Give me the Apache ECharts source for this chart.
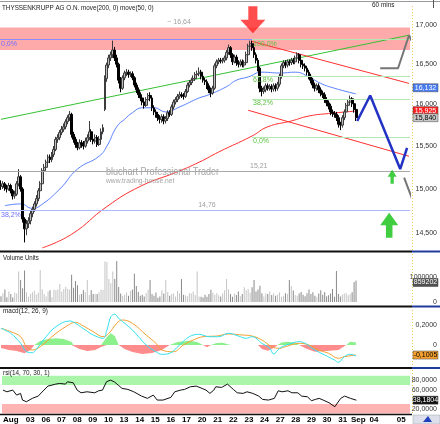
<!DOCTYPE html>
<html>
<head>
<meta charset="utf-8">
<script src="https://cdn.jsdelivr.net/npm/echarts@6/dist/echarts.min.js"></script>
<style>
  html, body { margin: 0; padding: 0; background: #fff; }
  #main { width: 440px; height: 424px; }
</style>
</head>
<body>
<div id="main"></div>
<script>
// trading days shown on the axis ('Aug' = 01, 'Sep' = 03), hourly bars per day
var days = ['Aug','02','03','06','07','08','09','10','13','14','15','16','17','20','21','22','23','24','27','28','29','30','31','Sep','04','05'];
var barsPerDay = [6,8,8,8,8,8,8,8,8,8,8,8,8,8,8,8,8,8,8,8,8,8,8,8,14,5];
var hiddenDays = ['02'];

// hourly candles [open, close, low, high]
var ohlc = [
  [15.05,15.03,14.99,15.10],[15.03,15.06,15.00,15.09],[15.06,15.02,14.98,15.08],[15.02,15.00,14.96,15.05],[15.00,15.04,14.98,15.07],[15.04,14.98,14.95,15.06],
  [14.98,14.92,14.88,15.00],[14.92,14.94,14.89,14.98],[14.94,15.06,14.92,15.09],[15.06,15.14,15.03,15.23],[15.14,15.00,14.97,15.16],[15.00,14.66,14.62,15.02],[14.66,14.55,14.40,14.68],[14.55,14.61,14.48,14.65],
  [14.61,14.64,14.56,14.68],[14.64,14.72,14.60,14.75],[14.72,14.77,14.68,14.80],[14.77,14.83,14.74,14.86],[14.83,14.89,14.80,14.93],[14.89,14.98,14.86,15.01],[14.98,15.06,14.95,15.09],[15.06,15.21,15.04,15.24],
  [15.21,15.25,15.17,15.29],[15.25,15.31,15.22,15.34],[15.31,15.37,15.28,15.40],[15.37,15.34,15.30,15.40],[15.34,15.40,15.31,15.43],[15.40,15.46,15.37,15.50],[15.46,15.58,15.44,15.61],[15.58,15.60,15.54,15.64],
  [15.60,15.66,15.57,15.69],[15.66,15.70,15.63,15.74],[15.70,15.73,15.67,15.77],[15.73,15.79,15.70,15.82],[15.79,15.84,15.76,15.87],[15.84,15.88,15.80,15.92],[15.88,15.64,15.60,15.90],[15.64,15.58,15.54,15.67],
  [15.58,15.52,15.48,15.61],[15.52,15.48,15.45,15.55],[15.48,15.54,15.46,15.58],[15.54,15.52,15.48,15.57],[15.52,15.50,15.46,15.56],[15.50,15.56,15.48,15.60],[15.56,15.60,15.53,15.64],[15.60,15.67,15.57,15.80],
  [15.67,15.58,15.55,15.70],[15.58,15.56,15.52,15.62],[15.56,15.60,15.53,15.64],[15.60,15.52,15.49,15.63],[15.52,15.58,15.50,15.62],[15.58,15.67,15.56,15.71],[15.67,15.72,15.64,15.76],[15.94,16.32,15.92,16.36],
  [16.32,16.49,16.28,16.52],[16.49,16.58,16.45,16.62],[16.58,16.62,16.54,16.66],[16.62,16.68,16.58,16.80],[16.68,16.58,16.54,16.72],[16.58,16.50,16.46,16.62],[16.50,16.30,16.26,16.52],[16.30,16.20,16.15,16.34],
  [16.20,16.33,16.18,16.36],[16.33,16.39,16.30,16.42],[16.39,16.40,16.35,16.44],[16.40,16.37,16.33,16.43],[16.37,16.38,16.34,16.41],[16.38,16.33,16.30,16.41],[16.33,16.24,16.21,16.35],[16.24,16.18,16.14,16.27],
  [16.18,16.12,16.08,16.21],[16.12,16.08,16.04,16.15],[16.08,16.03,15.99,16.10],[16.03,15.99,15.95,16.06],[15.99,16.06,15.97,16.09],[16.06,16.11,16.03,16.14],[16.11,16.08,16.04,16.15],[16.08,15.96,15.92,16.10],
  [15.96,15.91,15.87,15.99],[15.91,15.88,15.84,15.94],[15.88,15.84,15.80,15.91],[15.84,15.82,15.77,15.87],[15.82,15.85,15.78,15.88],[15.85,15.80,15.76,15.88],[15.80,15.83,15.77,15.86],[15.83,15.90,15.80,15.93],
  [15.90,15.88,15.85,15.93],[15.88,15.97,15.86,16.00],[15.97,16.03,15.94,16.06],[16.03,16.06,16.00,16.09],[16.06,16.10,16.03,16.13],[16.10,16.12,16.07,16.16],[16.12,16.11,16.08,16.15],[16.11,16.10,16.06,16.14],
  [16.10,16.16,16.08,16.19],[16.16,16.24,16.14,16.27],[16.24,16.27,16.21,16.30],[16.27,16.30,16.24,16.33],[16.30,16.32,16.27,16.36],[16.32,16.37,16.29,16.40],[16.37,16.38,16.34,16.42],[16.38,16.40,16.35,16.46],
  [16.40,16.35,16.31,16.43],[16.35,16.30,16.27,16.38],[16.30,16.28,16.24,16.33],[16.28,16.23,16.19,16.31],[16.23,16.18,16.14,16.26],[16.18,16.14,16.09,16.21],[16.14,16.20,16.12,16.23],[16.20,16.48,16.18,16.51],
  [16.48,16.53,16.45,16.56],[16.53,16.55,16.50,16.58],[16.55,16.54,16.51,16.58],[16.54,16.55,16.51,16.58],[16.55,16.58,16.52,16.61],[16.58,16.65,16.55,16.68],[16.65,16.71,16.62,16.75],[16.71,16.62,16.58,16.73],
  [16.62,16.53,16.49,16.64],[16.53,16.59,16.51,16.62],[16.59,16.52,16.48,16.62],[16.52,16.50,16.46,16.55],[16.50,16.53,16.47,16.56],[16.53,16.49,16.46,16.56],[16.49,16.52,16.46,16.55],[16.52,16.62,16.50,16.66],
  [16.62,16.73,16.60,16.76],[16.73,16.76,16.70,16.80],[16.76,16.71,16.67,16.80],[16.71,16.62,16.58,16.74],[16.62,16.55,16.51,16.65],[16.55,16.45,16.41,16.58],[16.45,16.20,16.15,16.47],[16.20,16.16,16.10,16.23],
  [16.16,16.18,16.13,16.22],[16.18,16.23,16.15,16.26],[16.23,16.20,16.17,16.26],[16.20,16.22,16.17,16.25],[16.22,16.19,16.15,16.25],[16.19,16.23,16.16,16.26],[16.23,16.20,16.16,16.26],[16.20,16.25,16.17,16.28],
  [16.25,16.35,16.22,16.38],[16.35,16.48,16.32,16.51],[16.48,16.52,16.45,16.55],[16.52,16.49,16.45,16.55],[16.49,16.53,16.46,16.56],[16.53,16.52,16.48,16.56],[16.52,16.55,16.49,16.58],[16.55,16.53,16.50,16.58],
  [16.53,16.58,16.50,16.61],[16.58,16.62,16.55,16.65],[16.62,16.55,16.51,16.64],[16.55,16.50,16.46,16.58],[16.50,16.48,16.44,16.53],[16.48,16.45,16.41,16.51],[16.45,16.40,16.36,16.48],[16.40,16.35,16.31,16.43],
  [16.35,16.30,16.26,16.38],[16.30,16.24,16.20,16.33],[16.24,16.20,16.16,16.27],[16.20,16.23,16.17,16.26],[16.23,16.18,16.14,16.26],[16.18,16.14,16.10,16.21],[16.14,16.12,16.08,16.17],[16.12,16.06,16.02,16.15],
  [16.06,16.02,15.98,16.09],[16.02,15.98,15.94,16.05],[15.98,15.91,15.87,16.01],[15.91,15.89,15.85,15.94],[15.89,15.88,15.84,15.92],[15.88,15.84,15.80,15.91],[15.84,15.76,15.72,15.87],[15.76,15.75,15.69,15.79],
  [15.75,15.84,15.72,15.87],[15.84,15.91,15.81,15.94],[15.91,15.99,15.88,16.02],[15.99,16.03,15.96,16.06],[16.03,16.07,16.00,16.11],[16.07,16.01,15.97,16.09],[16.01,15.94,15.90,16.04],[15.94,15.84,15.80,15.96]
];

var volume = [
  235000,353000,504000,193000,420000,319000,
  176000,378000,336000,1218000,882000,546000,1260000,386000,
  210000,319000,386000,454000,302000,378000,1277000,512000,
  319000,218000,420000,470000,193000,487000,470000,504000,
  722000,420000,521000,605000,521000,487000,1092000,571000,
  840000,672000,294000,319000,470000,386000,882000,277000,
  470000,319000,319000,319000,386000,487000,487000,1621000,
  1596000,924000,756000,1218000,924000,1638000,605000,336000,
  252000,294000,378000,252000,437000,504000,1134000,638000,
  403000,252000,294000,218000,353000,487000,882000,319000,
  252000,378000,168000,218000,470000,336000,882000,403000,
  252000,319000,336000,218000,437000,353000,924000,294000,
  269000,235000,353000,336000,420000,277000,1218000,218000,
  210000,185000,294000,210000,319000,487000,378000,294000,
  353000,269000,218000,336000,470000,924000,504000,319000,
  210000,336000,277000,420000,235000,319000,588000,470000,
  521000,378000,588000,882000,420000,504000,655000,353000,
  218000,336000,319000,420000,277000,353000,252000,302000,
  386000,210000,252000,353000,319000,882000,638000,462000,
  277000,252000,336000,403000,294000,235000,353000,504000,
  319000,386000,252000,210000,336000,470000,294000,403000,
  235000,269000,336000,521000,210000,1243000,319000,218000,
  294000,336000,353000,269000,319000,386000,798000,859202
];

// moving averages, [bar, price]
var ma200 = [[21,14.34],[36,14.49],[54,14.80],[71,15.03],[89,15.19],[101,15.31],[111,15.43],[128,15.62],[136,15.73],[148,15.80],[157,15.86],[167,15.89],[181,15.92]];
var ma50 = [[2,14.81],[10,14.83],[16,14.78],[20,14.81],[30,15.00],[39,15.23],[50,15.38],[54,15.50],[59,15.73],[63,15.82],[67,15.90],[72,15.96],[78,15.96],[84,15.91],[91,15.97],[101,16.08],[106,16.12],[115,16.22],[120,16.30],[126,16.34],[133,16.40],[142,16.39],[150,16.40],[157,16.34],[163,16.26],[170,16.20],[181,16.13]];

// drawn trend lines and projections, [bar, price]
var trendUp = [[0,15.82],[208,16.87]];
var channelTop = [[128,16.79],[208,16.26]];
var channelLow = [[126,15.93],[208,15.38]];
var projBlue = [[181.6,15.80],[188.2,16.11],[203.5,15.23],[207,15.48]];
var projGray1 = [[193.3,16.45],[202.4,16.45],[208,16.87],[211.6,16.68]];
var projGray2 = [[205.5,15.13],[212.1,14.74],[216.6,14.87]];

// fibonacci levels
var fibRight = [[16.815,'100,0%'],[16.354,'61,8%'],[16.068,'38,2%'],[15.607,'0,0%']];
var fibLeft = [[16.815,'0,0%'],[14.76,'38,2%']];
var hLine = 15.21;
var band = [16.68, 16.97];

// macd(12,26,9), [bar, value]
var macdLine = [[0,0.167],[5,0.117],[10,0.017],[13,-0.067],[16,-0.077],[18,-0.043],[23,0.083],[28,0.183],[35,0.24],[38,0.217],[43,0.15],[47,0.10],[52,0.067],[54,0.15],[56,0.283],[58,0.307],[60,0.267],[67,0.15],[74,0.0],[79,-0.067],[82,-0.093],[86,-0.083],[91,0.0],[96,0.083],[101,0.107],[106,0.083],[111,0.083],[116,0.117],[121,0.09],[125,0.067],[128,0.083],[133,0.017],[137,-0.033],[139,-0.09],[142,-0.033],[147,0.01],[152,0.033],[155,0.017],[160,-0.05],[165,-0.10],[170,-0.15],[172,-0.173],[175,-0.117],[178,-0.093],[181,-0.11]];
var macdSignal = [[0,0.167],[5,0.133],[10,0.083],[13,-0.017],[16,-0.05],[20,-0.017],[27,0.10],[33,0.183],[38,0.227],[42,0.19],[47,0.133],[52,0.083],[55,0.117],[59,0.217],[62,0.25],[67,0.217],[74,0.10],[79,0.017],[82,-0.05],[88,-0.067],[93,0.0],[98,0.05],[103,0.083],[110,0.09],[116,0.11],[123,0.10],[128,0.09],[133,0.05],[138,-0.017],[142,-0.033],[145,-0.017],[152,0.017],[157,0.0],[162,-0.05],[167,-0.083],[172,-0.133],[175,-0.117],[181,-0.10]];
var macdHist = [[0,-0.03],[4,-0.05],[8,-0.06],[12,-0.083],[15,-0.05],[17,0],[20,0.04],[24,0.06],[28,0.067],[32,0.06],[36,0.03],[37,0],[40,-0.04],[44,-0.06],[48,-0.05],[51,-0.02],[52,0],[54,0.08],[56,0.117],[58,0.09],[60,0],[63,-0.04],[67,-0.07],[72,-0.09],[77,-0.08],[82,-0.05],[86,0],[90,0.03],[96,0.043],[100,0.03],[103,0],[105,-0.023],[107,0],[110,0.02],[113,0.023],[117,0],[126,0],[127,0.01],[129,0],[131,0],[133,-0.04],[136,-0.057],[139,-0.03],[141,0],[143,0.025],[146,0.033],[149,0.025],[152,0],[156,-0.04],[160,-0.067],[166,-0.06],[172,-0.05],[176,0],[178,0.033],[181,0.025]];

// rsi(14,70,30), [bar, value]
var rsi = [[0,59.5],[2,55.9],[5,59.5],[7,48.9],[9,52.5],[10,38.4],[12,34.9],[15,42],[18,46.8],[21,59.5],[23,67.9],[27,72.1],[29,73.5],[32,72.1],[33,77],[36,74.9],[38,59.5],[40,53.8],[43,55.9],[44,59.5],[47,53.8],[49,58],[51,59.5],[53,77],[55,80.5],[57,77],[59,70],[61,63],[64,60.9],[67,55.9],[71,46.8],[74,42],[77,48.9],[79,38.4],[82,38.4],[86,44.1],[88,55.9],[91,59.5],[93,60.9],[96,66.5],[99,67.9],[102,63],[104,59.5],[106,52.5],[108,59.5],[109,66.5],[112,65.1],[115,72.1],[118,60.9],[120,53.8],[123,52.5],[125,55.9],[126,59.5],[128,52.5],[131,46.8],[133,39.8],[136,38.4],[139,42],[141,58],[143,55.9],[146,58],[148,53.8],[151,53.8],[153,46.8],[156,45.4],[158,37],[160,39.8],[162,42],[164,38.4],[167,32.8],[170,24.4],[171,27.9],[173,42],[175,46.8],[178,42],[181,38.2]];

// last values shown in the right-hand boxes
var lastMa50 = 16.132, lastMa200 = 15.925, lastClose = 15.840, lastVolume = 859202, lastMacd = -0.1005, lastRsi = 38.1804;

var categories = [];
var dayStart = {};
days.forEach(function (d, k) {
  for (var j = 0; j < barsPerDay[k]; j++) {
    if (j === 0) dayStart[categories.length] = d;
    categories.push(d + '_' + j);
  }
});
var nBars = categories.length;

var sans = '"Liberation Sans", Arial, sans-serif';
var fmtComma = function (d) { return function (v) { return v === 0 ? '0' : v.toFixed(d).replace('.', ','); }; };

var volData = volume.map(function (v, i) {
  var up = ohlc[i][1] >= ohlc[i][0];
  return { value: v, itemStyle: { color: up ? '#c4c4c4' : '#8a8a8a' } };
});
var histPos = macdHist.map(function (p) { return [p[0], Math.max(p[1], 0)]; });
var histNeg = macdHist.map(function (p) { return [p[0], Math.min(p[1], 0)]; });

var arrowUp = 'path://M11,0 L22,12 L15,12 L15,24 L7,24 L7,12 L0,12 Z';
var arrowDown = 'path://M7,0 L15,0 L15,12 L22,12 L11,24 L0,12 L7,12 Z';

function catAxis(grid, showLabel) {
  return {
    type: 'category', gridIndex: grid, data: categories, boundaryGap: true,
    axisLine: { show: false }, axisTick: { show: false }, splitLine: { show: false },
    axisLabel: {
      show: showLabel, margin: 2, fontSize: 8, fontWeight: 'bold', color: '#000', fontFamily: sans,
      interval: function (idx) { return dayStart[idx] !== undefined && hiddenDays.indexOf(dayStart[idx]) < 0; },
      formatter: function (v, idx) { return dayStart[idx] || ''; },
      alignMinLabel: 'left'
    }
  };
}
function rightAxis(grid, type, min, max, ticks, fmt) {
  return {
    type: type, gridIndex: grid, position: 'right', min: min, max: max,
    axisLine: { show: false }, axisTick: { show: false }, splitLine: { show: false },
    axisLabel: { customValues: ticks, formatter: fmt, align: 'right', margin: 27, fontSize: 7, color: '#333', fontFamily: sans }
  };
}
function lineMark(v, from, to, color, text, textColor) {
  return [
    { coord: [from, v], lineStyle: { color: color, width: 1, type: 'solid' },
      label: { show: !!text, formatter: text || '', position: 'insideStartBottom', distance: 1, color: textColor, fontSize: 7, fontFamily: sans } },
    { coord: [to, v] }
  ];
}
function textMark(x, v, text, pos) {
  return { coord: [x, v], symbol: 'rect', symbolSize: 1, itemStyle: { color: 'rgba(0,0,0,0)' },
    label: { show: true, formatter: text, position: pos, distance: 1, color: '#a0a0a0', fontSize: 7, fontFamily: sans } };
}

var marks = [
  lineMark(fibLeft[0][0], -0.5, 208.5, '#8c8cff', fibLeft[0][1], '#6c6cff'),
  lineMark(fibLeft[1][0], -0.5, 208.5, '#aab8ff', fibLeft[1][1], '#6c6cff'),
  lineMark(hLine, -0.5, 208.5, '#a8a8a8', '', '')
];
fibRight.forEach(function (f) { marks.push(lineMark(f[0], 128, 208.5, '#b4e6b4', f[1], '#5cc040')); });

var option = {
  animation: false,
  backgroundColor: '#fff',
  grid: [
    { left: 0, top: 3, width: 412, height: 247 },
    { left: 0, top: 256, width: 412, height: 46 },
    { left: 0, top: 309, width: 412, height: 59 },
    { left: 0, top: 369, width: 412, height: 45 }
  ],
  xAxis: [
    catAxis(0, false), catAxis(1, false), catAxis(2, false), catAxis(3, true),
    { type: 'value', gridIndex: 0, min: -0.5, max: nBars - 0.5, show: false }
  ],
  yAxis: [
    rightAxis(0, 'log', 14.317, 17.29, [14.5, 15, 15.5, 16, 16.5, 17], fmtComma(3)),
    rightAxis(1, 'value', 0, 1840000, [0, 1000000], function (v) { return String(v); }),
    rightAxis(2, 'value', -0.23, 0.36, [0, 0.2], fmtComma(4)),
    rightAxis(3, 'value', 9, 104, [20, 60, 80], fmtComma(4))
  ],
  series: [
    {
      type: 'line', xAxisIndex: 4, yAxisIndex: 0, data: [], silent: true, z: 1,
      markArea: { silent: true, itemStyle: { color: '#ffaaaa' }, data: [[{ yAxis: band[0] }, { yAxis: band[1] }]] },
      markLine: { silent: true, symbol: 'none', data: marks },
      markPoint: { silent: true, data: [
        textMark(90.8, 17.04, '~ 16,64', 'inside'),
        textMark(131.4, hLine, '15,21', 'top'),
        textMark(105, 14.76, '14,76', 'top')
      ] }
    },
    { type: 'line', xAxisIndex: 4, yAxisIndex: 0, data: trendUp, symbol: 'none', lineStyle: { color: '#34c034', width: 1 }, z: 3 },
    { type: 'line', xAxisIndex: 4, yAxisIndex: 0, data: channelTop, symbol: 'none', lineStyle: { color: '#ff3030', width: 1 }, z: 3 },
    { type: 'line', xAxisIndex: 4, yAxisIndex: 0, data: channelLow, symbol: 'none', lineStyle: { color: '#ff3030', width: 1 }, z: 3 },
    { type: 'line', xAxisIndex: 4, yAxisIndex: 0, data: ma200, symbol: 'none', smooth: true, lineStyle: { color: '#ff3030', width: 1 }, z: 3 },
    { type: 'line', xAxisIndex: 4, yAxisIndex: 0, data: ma50, symbol: 'none', smooth: true, lineStyle: { color: '#5a82ff', width: 1 }, z: 3 },
    {
      type: 'candlestick', xAxisIndex: 0, yAxisIndex: 0, data: ohlc, barWidth: 2.4, z: 4,
      itemStyle: { color: '#bdbdbd', color0: '#000', borderColor: '#3c3c3c', borderColor0: '#000', borderWidth: 1 }
    },
    { type: 'line', xAxisIndex: 4, yAxisIndex: 0, data: projBlue, symbol: 'none', clip: false, lineStyle: { color: '#2232c4', width: 2.5 }, z: 5 },
    { type: 'line', xAxisIndex: 4, yAxisIndex: 0, data: projGray1, symbol: 'none', clip: false, lineStyle: { color: '#767676', width: 2 }, z: 5 },
    { type: 'line', xAxisIndex: 4, yAxisIndex: 0, data: projGray2, symbol: 'none', clip: false, lineStyle: { color: '#767676', width: 2 }, z: 5 },
    {
      type: 'scatter', xAxisIndex: 4, yAxisIndex: 0, z: 6, clip: false,
      data: [
        { value: [128.4, 17.07], symbol: arrowDown, symbolSize: [25, 27], itemStyle: { color: '#ff2020' } },
        { value: [199.4, 15.14], symbol: arrowUp, symbolSize: [9, 14], itemStyle: { color: '#10c010' } },
        { value: [197.9, 14.59], symbol: arrowUp, symbolSize: [18, 25], itemStyle: { color: '#10c010' } }
      ]
    },
    { type: 'bar', xAxisIndex: 1, yAxisIndex: 1, data: volData, barWidth: 1 },
    { type: 'line', xAxisIndex: 2, yAxisIndex: 2, data: histPos, symbol: 'none', lineStyle: { width: 0 }, areaStyle: { color: '#8cf08c', opacity: 1 } },
    { type: 'line', xAxisIndex: 2, yAxisIndex: 2, data: histNeg, symbol: 'none', lineStyle: { width: 0 }, areaStyle: { color: '#ff8c8c', opacity: 1 } },
    { type: 'line', xAxisIndex: 2, yAxisIndex: 2, data: macdSignal, symbol: 'none', smooth: 0.4, lineStyle: { color: '#f5a030', width: 1 } },
    { type: 'line', xAxisIndex: 2, yAxisIndex: 2, data: macdLine, symbol: 'none', smooth: 0.4, lineStyle: { color: '#30e0f0', width: 1 } },
    {
      type: 'line', xAxisIndex: 3, yAxisIndex: 3, data: rsi, symbol: 'none', lineStyle: { color: '#101010', width: 1 },
      markArea: { silent: true, data: [
        [{ yAxis: 70, itemStyle: { color: '#aaf5aa' } }, { yAxis: 90 }],
        [{ yAxis: 10, itemStyle: { color: '#ffb4b4' } }, { yAxis: 30 }]
      ] }
    }
  ]
};

var chart = echarts.init(document.getElementById('main'));
chart.setOption(option);

// frame, panel titles and value boxes
function txt(x, y, s, color, size, sx, align) {
  return { type: 'text', x: x, y: y, scaleX: sx, z: 50,
    style: { text: s, fill: color, font: size + 'px ' + sans, align: align || 'left', verticalAlign: 'middle' } };
}
function hline(y, x1, x2, color, w, dash) {
  return { type: 'line', z: 40, shape: { x1: x1, y1: y, x2: x2, y2: y }, style: { stroke: color, lineWidth: w, lineDash: dash || null } };
}
function vline(x, y1, y2, color, w, dash) {
  return { type: 'line', z: 40, shape: { x1: x, y1: y1, x2: x, y2: y2 }, style: { stroke: color, lineWidth: w, lineDash: dash || null } };
}
function valueBox(axis, value, s, bg, fg, nudge) {
  var y = chart.convertToPixel({ yAxisIndex: axis }, value) + (nudge || 0);
  return { type: 'group', z: 60, children: [
    { type: 'rect', z: 60, shape: { x: 413, y: y - 4, width: 25, height: 8 }, style: { fill: bg, stroke: '#444', lineWidth: 0.5 } },
    { type: 'text', z: 61, x: 425.5, y: y, style: { text: s, fill: fg, font: '7px ' + sans, align: 'center', verticalAlign: 'middle' } }
  ] };
}

var graphics = [
  hline(1.5, 0, 440, '#9a9a9a', 1),
  vline(433.5, 0, 8, '#555', 1),
  hline(251.5, 0, 412, '#111', 2), hline(251.5, 412, 440, '#203c9c', 2),
  hline(306.5, 0, 412, '#111', 2), hline(306.5, 412, 440, '#203c9c', 2),
  hline(368, 0, 412, '#111', 2), hline(368, 412, 440, '#203c9c', 2),
  hline(414.5, 0, 412, '#111', 1.5),
  vline(412.5, 6, 250, '#f0cc50', 1, [1, 2]),
  vline(412.5, 254, 305, '#f0cc50', 1, [1, 2]),
  vline(412.5, 310, 366, '#f0cc50', 1, [1, 2]),
  vline(412.5, 370, 413, '#f0cc50', 1, [1, 2]),
  txt(2, 8, 'THYSSENKRUPP AG O.N. move(200, 0) move(50, 0)', '#1a1a1a', 8, 0.79),
  txt(372, 5, '60 mins', '#1a1a1a', 8, 0.8),
  txt(106, 172, 'bluchart Professional Trader', '#a6a6a6', 11, 0.82),
  txt(106, 181, 'www.trading-house.net', '#a6a6a6', 8, 0.84),
  txt(3, 258, 'Volume Units', '#1a1a1a', 8, 0.76),
  txt(3, 311, 'macd(12, 26, 9)', '#1a1a1a', 8, 0.8),
  txt(3, 373, 'rsi(14, 70, 30, 1)', '#1a1a1a', 8, 0.8),
  valueBox(0, lastMa50, '16,132', '#4a7cf0', '#fff', -6),
  valueBox(0, lastMa200, lastMa200.toFixed(3).replace('.', ','), '#ff2020', '#fff', 0),
  valueBox(0, lastClose, '15,840', '#c8c8c8', '#000', 0),
  valueBox(1, lastVolume, String(lastVolume), '#505050', '#fff', 2),
  valueBox(2, lastMacd, '-0,1005', '#f5a030', '#000', 0),
  valueBox(3, lastRsi, '38,1804', '#111', '#fff', 0),
  { type: 'rect', z: 60, shape: { x: 413, y: 415, width: 27, height: 9 }, style: { fill: '#dde0ea', stroke: '#9aa', lineWidth: 0.5 } },
  { type: 'polygon', z: 61, shape: { points: [[423, 422], [428, 416], [432, 422]] }, style: { fill: '#2040c0' } }
];
chart.setOption({ graphic: graphics });
</script>
</body>
</html>
